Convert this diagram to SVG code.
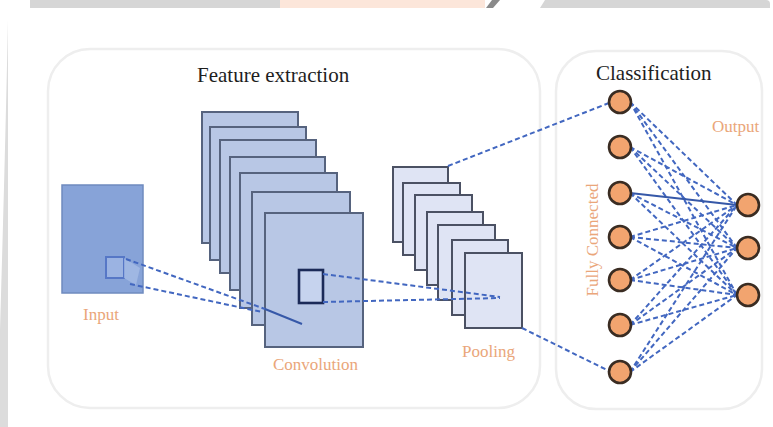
<svg xmlns="http://www.w3.org/2000/svg" width="773" height="427" viewBox="0 0 773 427">
  <defs>
    <style>
      .panel { fill: #ffffff; stroke: #eeeeee; stroke-width: 2.5; }
      .title { font-family: "Liberation Serif", "Times New Roman", serif; font-size: 21px; fill: #1e1e1e; }
      .label { font-family: "Liberation Serif", "Times New Roman", serif; font-size: 17px; fill: #eaa67a; }
      .conv { fill: #b8c7e5; stroke: #56637e; stroke-width: 2; }
      .pool { fill: #dfe4f4; stroke: #4b5163; stroke-width: 2; }
      .dash { fill: none; stroke: #4267c0; stroke-width: 2; stroke-dasharray: 5 3; }
      .solid { fill: none; stroke: #3658a8; stroke-width: 2; }
      .neuron { fill: #f2a46f; stroke: #3a2c22; stroke-width: 2.6; }
    </style>
  </defs>

  <!-- page frame -->
  <rect x="0" y="0" width="773" height="427" fill="#ffffff"/>
  <g id="page-edge">
    <rect x="30" y="0" width="252" height="8" fill="#d6d6d6"/>
    <rect x="280" y="0" width="205" height="8" fill="#fce6da"/>
    <path d="M486 8 L492 0 L500 0 L493 8 Z" fill="#8a8a8a"/>
    <path d="M545 0 L766 0 Q770 0 770 4 L770 8 L540 8 Z" fill="#d6d6d6"/>
    <path d="M0 427 L8 427 L8 20 Q5 160 0 330 Z" fill="#dcdcdc"/>
  </g>

  <!-- section panels -->
  <g id="feature-panel">
    <rect class="panel" x="48" y="49" width="492" height="359" rx="42"/>
    <text class="title" x="197" y="82">Feature extraction</text>
  </g>
  <g id="classification-panel">
    <rect class="panel" x="556" y="51" width="206" height="358" rx="40"/>
    <text class="title" x="596" y="80">Classification</text>
  </g>

  <!-- input image -->
  <g id="input">
    <rect x="62" y="185" width="81" height="108" fill="#87a3d8" stroke="#6f8bbf" stroke-width="1.5"/>
    <rect x="106" y="257" width="18" height="21" fill="#9bb3e2" stroke="#5677c6" stroke-width="2"/>
    <path d="M124 258 L140 268 L136 285 L124 278 Z" fill="#a9bfe8" opacity="0.7"/>
    <text class="label" x="83" y="320">Input</text>
  </g>

  <!-- convolution feature maps -->
  <g id="convolution">
    <rect class="conv" x="202" y="112" width="96" height="131"/>
    <rect class="conv" x="210" y="127" width="96" height="133"/>
    <rect class="conv" x="220" y="140" width="96" height="133"/>
    <rect class="conv" x="230" y="157" width="95" height="133"/>
    <rect class="conv" x="240" y="173" width="97" height="135"/>
    <rect class="conv" x="252" y="192" width="98" height="133"/>
    <rect class="conv" x="265" y="213" width="98" height="134"/>
    <rect x="299" y="270" width="24" height="33" fill="#c6d3ee" stroke="#1b2a58" stroke-width="2.6"/>
    <text class="label" x="273" y="370" font-size="18.5">Convolution</text>
  </g>

  <!-- pooling feature maps -->
  <g id="pooling">
    <rect class="pool" x="393" y="167" width="55" height="75"/>
    <rect class="pool" x="403" y="183" width="57" height="72"/>
    <rect class="pool" x="415" y="195" width="57" height="75"/>
    <rect class="pool" x="427" y="212" width="56" height="73"/>
    <rect class="pool" x="438" y="225" width="57" height="75"/>
    <rect class="pool" x="452" y="240" width="56" height="75"/>
    <rect class="pool" x="465" y="253" width="57" height="75"/>
    <text class="label" x="462" y="357" font-size="17.5">Pooling</text>
  </g>

  <!-- connectors -->
  <g id="connectors">
    <line class="dash" x1="126" y1="259" x2="265" y2="309"/>
    <line class="solid" x1="265" y1="309" x2="302" y2="324"/>
    <line class="dash" x1="130" y1="284" x2="262" y2="312"/>
    <line class="dash" x1="323" y1="274" x2="500" y2="297"/>
    <line class="dash" x1="323" y1="302" x2="500" y2="298"/>
    <line class="dash" x1="448" y1="166" x2="609" y2="103"/>
    <line class="dash" x1="522" y1="328" x2="609" y2="371"/>

    <g id="dense-links">
      <line class="dash" x1="630" y1="102" x2="737" y2="205"/>
      <line class="dash" x1="630" y1="102" x2="737" y2="248"/>
      <line class="dash" x1="630" y1="102" x2="737" y2="295"/>
      <line class="dash" x1="630" y1="147" x2="737" y2="205"/>
      <line class="dash" x1="630" y1="147" x2="737" y2="248"/>
      <line class="dash" x1="630" y1="147" x2="737" y2="295"/>
      <line class="solid" x1="630" y1="193" x2="737" y2="205"/>
      <line class="dash" x1="630" y1="193" x2="737" y2="248"/>
      <line class="dash" x1="630" y1="193" x2="737" y2="295"/>
      <line class="dash" x1="630" y1="237" x2="737" y2="205"/>
      <line class="dash" x1="630" y1="237" x2="737" y2="248"/>
      <line class="dash" x1="630" y1="237" x2="737" y2="295"/>
      <line class="dash" x1="630" y1="280" x2="737" y2="205"/>
      <line class="dash" x1="630" y1="280" x2="737" y2="248"/>
      <line class="dash" x1="630" y1="280" x2="737" y2="295"/>
      <line class="dash" x1="630" y1="325" x2="737" y2="205"/>
      <line class="dash" x1="630" y1="325" x2="737" y2="248"/>
      <line class="dash" x1="630" y1="325" x2="737" y2="295"/>
      <line class="dash" x1="630" y1="372" x2="737" y2="205"/>
      <line class="dash" x1="630" y1="372" x2="737" y2="248"/>
      <line class="dash" x1="630" y1="372" x2="737" y2="295"/>
    </g>
  </g>

  <!-- fully connected layer -->
  <g id="fully-connected">
    <text class="label" transform="translate(598 240) rotate(-90)" text-anchor="middle" font-size="17.5">Fully Connected</text>
    <circle class="neuron" cx="620" cy="102" r="11"/>
    <circle class="neuron" cx="620" cy="147" r="11"/>
    <circle class="neuron" cx="620" cy="193" r="11"/>
    <circle class="neuron" cx="620" cy="237" r="11"/>
    <circle class="neuron" cx="620" cy="280" r="11"/>
    <circle class="neuron" cx="620" cy="325" r="11"/>
    <circle class="neuron" cx="620" cy="372" r="11"/>
  </g>

  <!-- output layer -->
  <g id="output">
    <text class="label" x="712" y="132" font-size="15">Output</text>
    <circle class="neuron" cx="748" cy="205" r="11"/>
    <circle class="neuron" cx="748" cy="248" r="11"/>
    <circle class="neuron" cx="748" cy="295" r="11"/>
  </g>
</svg>
